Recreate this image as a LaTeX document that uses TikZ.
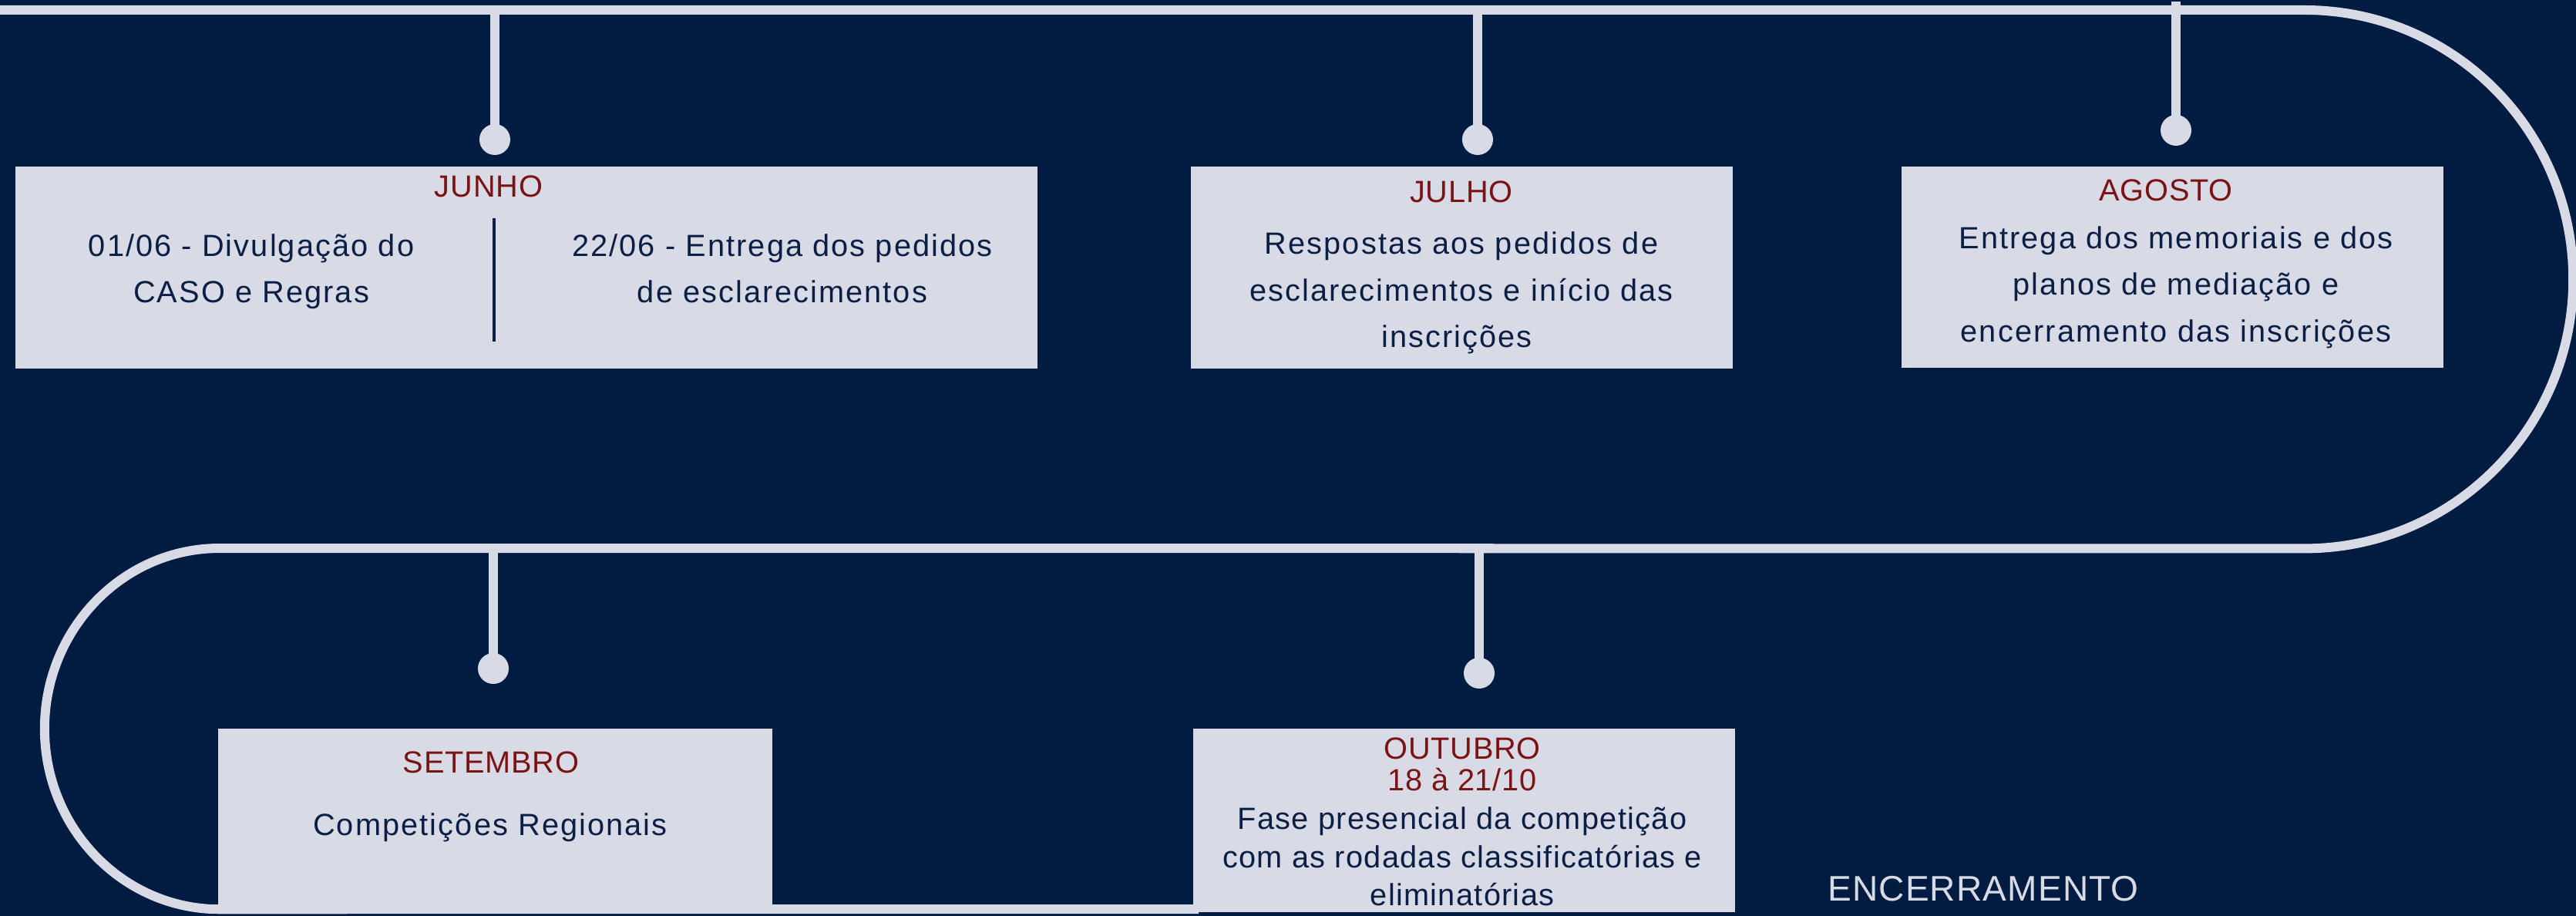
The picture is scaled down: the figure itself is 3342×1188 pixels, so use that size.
\documentclass[tikz,border=0pt]{standalone}
\usepackage{fontspec}
\setmainfont{Liberation Sans}
\newfontfamily\bodyfnt[LetterSpace=5.3]{Liberation Sans}
\newfontfamily\outfnt[LetterSpace=3.3]{Liberation Sans}
\newfontfamily\ttlfnt[LetterSpace=2]{Liberation Sans}
\newfontfamily\endfnt[LetterSpace=2.5]{Liberation Sans}
\definecolor{bg}{HTML}{011C40}
\definecolor{lite}{HTML}{D8DAE6}
\definecolor{ttlred}{HTML}{7A1414}
\definecolor{ink}{HTML}{0B1F45}
\begin{document}
\begin{tikzpicture}[x=0.01cm,y=-0.01cm,
  track/.style={draw=lite,line width=0.12cm},
  stem/.style={draw=lite,line width=0.12cm},
  dot/.style={circle,fill=lite,draw=none,minimum size=0.4cm,inner sep=0pt},
  evbox/.style={rectangle,fill=lite,draw=none,inner sep=0pt},
  divider/.style={draw=ink,line width=0.04cm},
  body/.style={anchor=base,inner sep=0pt,text=ink,font=\bodyfnt\fontsize{11.3}{17}\selectfont},
  outbody/.style={anchor=base,inner sep=0pt,text=ink,font=\outfnt\fontsize{11.3}{17}\selectfont},
  ttl/.style={anchor=base,inner sep=0pt,text=ttlred,font=\ttlfnt\fontsize{11.3}{17}\selectfont},
  endtxt/.style={anchor=base,inner sep=0pt,text=lite,font=\endfnt\fontsize{13.1}{16}\selectfont}
]
\fill[bg] (0,0) rectangle (3342,1188);
\useasboundingbox (0,0) rectangle (3342,1188);

% track
\draw[track] (0,13) -- (2990,13)
  arc[start angle=90,end angle=-90,x radius=3.48cm,y radius=3.49cm]
  -- (285,711)
  arc[start angle=90,end angle=270,x radius=2.27cm,y radius=2.34cm]
  -- (1555,1179);

% stems and dots
\coordinate (s1) at (642,13);
\coordinate (s2) at (1917,13);
\coordinate (s3) at (2823,2);
\coordinate (s4) at (640,711);
\coordinate (s5) at (1919,711);
\node[dot] (d1) at (642,181) {};
\node[dot] (d2) at (1917,181) {};
\node[dot] (d3) at (2823,169) {};
\node[dot] (d4) at (640,867) {};
\node[dot] (d5) at (1919,873) {};
\draw[stem] (s1) -- (d1.center);
\draw[stem] (s2) -- (d2.center);
\draw[stem] (s3) -- (d3.center);
\draw[stem] (s4) -- (d4.center);
\draw[stem] (s5) -- (d5.center);

% boxes
\node[evbox,minimum width=13.26cm,minimum height=2.62cm] (bjun) at (683,347) {};
\node[evbox,minimum width=7.03cm,minimum height=2.62cm] (bjul) at (1896.5,347) {};
\node[evbox,minimum width=7.03cm,minimum height=2.61cm] (bago) at (2818.5,346.5) {};
\node[evbox,minimum width=7.19cm,minimum height=2.34cm] (bset) at (642.5,1062) {};
\node[evbox,minimum width=7.03cm,minimum height=2.38cm] (bout) at (1899.5,1064) {};

% JUNHO
\coordinate (dv1) at (641,283);
\coordinate (dv2) at (641,443);
\draw[divider] (dv1) -- (dv2);
\node[ttl] (tjun) at (634,255) {JUNHO};
\node[body] (jun1a) at (326,333) {01/06 - Divulgação do};
\node[body] (jun1b) at (326,393) {CASO e Regras};
\node[body] (jun2a) at (1015,333) {22/06 - Entrega dos pedidos};
\node[body] (jun2b) at (1015,393) {de esclarecimentos};

% JULHO
\node[ttl] (tjul) at (1896,262) {JULHO};
\node[body] (jul1) at (1896,330) {Respostas aos pedidos de};
\node[body] (jul2) at (1896,390) {esclarecimentos e início das};
\node[body] (jul3) at (1890,450) {inscrições};

% AGOSTO
\node[ttl] (tago) at (2810,261) {AGOSTO};
\node[body] (ago1) at (2823,323) {Entrega dos memoriais e dos};
\node[body] (ago2) at (2823,383) {planos de mediação e};
\node[body] (ago3) at (2823,443) {encerramento das inscrições};

% SETEMBRO
\node[ttl] (tset) at (637,1002) {SETEMBRO};
\node[body] (set1) at (636,1083) {Competições Regionais};

% OUTUBRO
\node[ttl] (tout) at (1897,984) {OUTUBRO};
\node[ttl] (tout2) at (1897,1025) {18 à 21/10};
\node[outbody] (out1) at (1897,1075) {Fase presencial da competição};
\node[outbody] (out2) at (1897,1125) {com as rodadas classificatórias e};
\node[outbody] (out3) at (1897,1174) {eliminatórias};

% ENCERRAMENTO
\node[endtxt] (fim) at (2573,1168) {ENCERRAMENTO};
\end{tikzpicture}
\end{document}
